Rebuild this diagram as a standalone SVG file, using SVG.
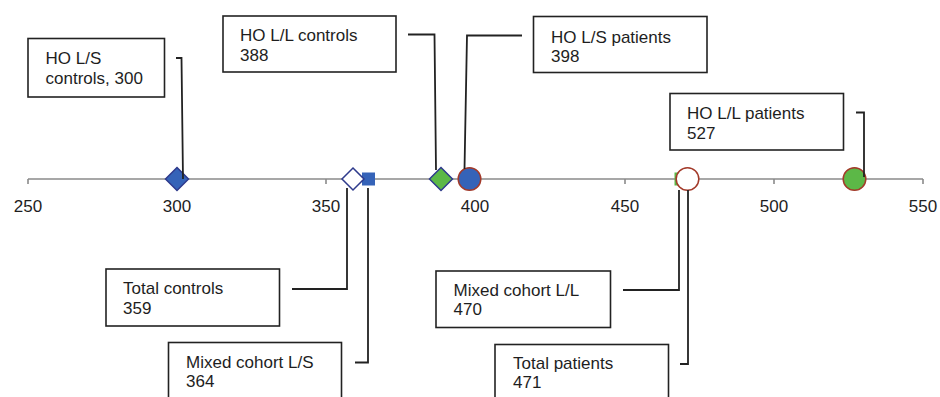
<svg xmlns="http://www.w3.org/2000/svg" width="940" height="397" viewBox="0 0 940 397">
<style>
text{font-family:"Liberation Sans",Arial,sans-serif;font-size:17px;fill:#1e1e1e}
.box{fill:#fff;stroke:#222;stroke-width:1.6}
.lead{fill:none;stroke:#222;stroke-width:1.8}
.axis{stroke:#8a8a8a;stroke-width:1.6;fill:none}
.tick{text-anchor:middle}
.dmd{stroke:#2e3a8c;stroke-width:1.5}
.circ{stroke:#a33a2a;stroke-width:1.5}
</style>
<rect width="940" height="397" fill="#fff"/>
<g id="axis">
<path class="axis" d="M28,179 H923 M28,179 V184 M177,179 V184 M326,179 V184 M475,179 V184 M625,179 V184 M774,179 V184 M923,179 V184"/>
<text class="tick" x="28" y="212">250</text>
<text class="tick" x="177" y="212">300</text>
<text class="tick" x="326" y="212">350</text>
<text class="tick" x="475" y="212">400</text>
<text class="tick" x="625" y="212">450</text>
<text class="tick" x="774" y="212">500</text>
<text class="tick" x="923" y="212">550</text>
</g>
<g id="markers">
<rect x="362" y="172.5" width="13" height="13" fill="#3563b8"/>
<rect x="674.5" y="172.5" width="13" height="13" fill="#5cb847"/>
<polygon class="dmd" points="177,167.5 188.5,179 177,190.5 165.5,179" fill="#3563b8"/>
<polygon class="dmd" points="353,168 364,179 353,190 342,179" fill="#fff"/>
<polygon class="dmd" points="441,167.5 452.5,179 441,190.5 429.5,179" fill="#5cb847"/>
<circle class="circ" cx="469.5" cy="179" r="11.3" fill="#3563b8"/>
<circle class="circ" cx="687.5" cy="179" r="11.3" fill="#fff"/>
<circle class="circ" cx="854.5" cy="179" r="11.3" fill="#5cb847"/>
</g>
<g id="connectors">
<path class="lead" d="M176,58 H181.5 L183,179"/>
<path class="lead" d="M408,34.5 H434.5 L436,170"/>
<path class="lead" d="M522,35.5 H467 L464.5,169"/>
<path class="lead" d="M856,112.5 H864 V177"/>
<path class="lead" d="M292,289 H347 V188"/>
<path class="lead" d="M355,362.5 H368 V188"/>
<path class="lead" d="M623,290 H679 V190"/>
<path class="lead" d="M680,364 H688 V190"/>
</g>
<g id="n-ho-ls-controls">
<rect class="box" x="28" y="38.5" width="136.5" height="58.5"/>
<text x="45.5" y="64">HO L/S</text>
<text x="45.5" y="83.5">controls, 300</text>
</g>
<g id="n-ho-ll-controls">
<rect class="box" x="223" y="16" width="173" height="56"/>
<text x="240" y="40.5">HO L/L controls</text>
<text x="240" y="60.5">388</text>
</g>
<g id="n-ho-ls-patients">
<rect class="box" x="533.5" y="16.5" width="173.5" height="56"/>
<text x="551" y="42.5">HO L/S patients</text>
<text x="551" y="61.5">398</text>
</g>
<g id="n-ho-ll-patients">
<rect class="box" x="670" y="93.5" width="173.5" height="56.5"/>
<text x="687" y="118.5">HO L/L patients</text>
<text x="687" y="138.5">527</text>
</g>
<g id="n-total-controls">
<rect class="box" x="106" y="269" width="173.5" height="57"/>
<text x="123" y="293.5">Total controls</text>
<text x="123" y="314">359</text>
</g>
<g id="n-mixed-ls">
<rect class="box" x="168.5" y="342.5" width="173" height="70"/>
<text x="186" y="367.5">Mixed cohort L/S</text>
<text x="186" y="386.5">364</text>
</g>
<g id="n-mixed-ll">
<rect class="box" x="436" y="271" width="174.5" height="56.5"/>
<text x="453.5" y="296">Mixed cohort L/L</text>
<text x="453.5" y="315">470</text>
</g>
<g id="n-total-patients">
<rect class="box" x="495" y="344.5" width="173.5" height="70"/>
<text x="513" y="368.5">Total patients</text>
<text x="513" y="387.5">471</text>
</g>
</svg>
